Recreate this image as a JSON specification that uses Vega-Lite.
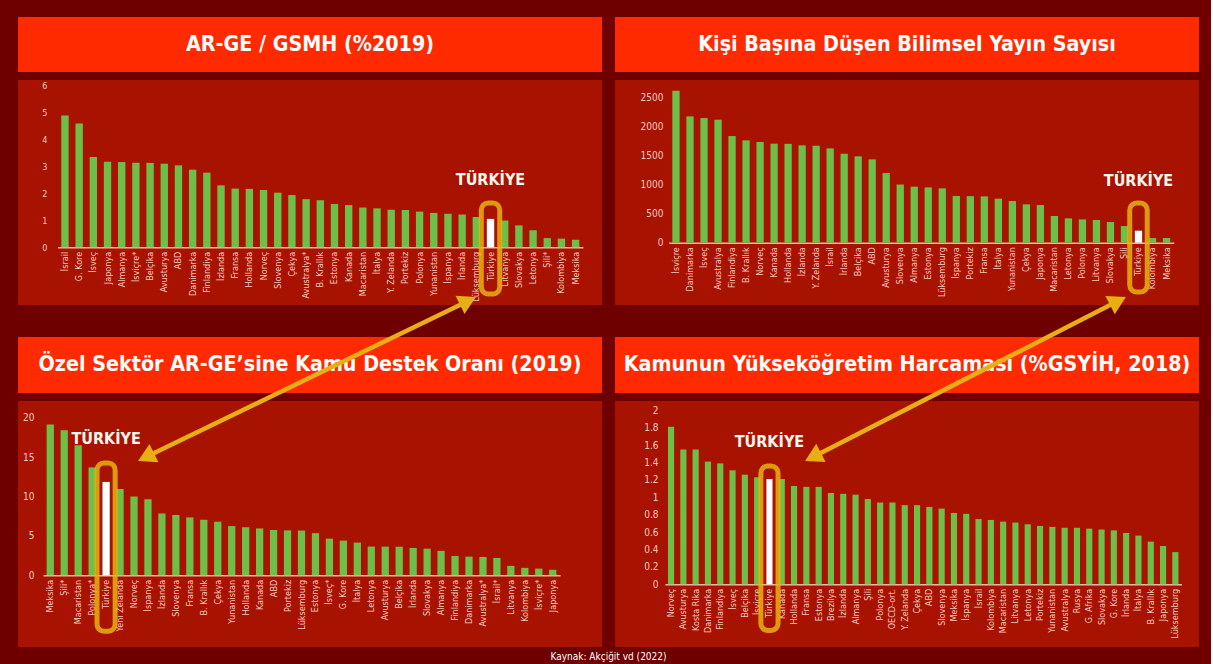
{
  "$schema": "https://vega.github.io/schema/vega-lite/v6.json",
  "background": "#6e0000",
  "padding": {"left": 18, "top": 17, "right": 12, "bottom": 2},
  "config": {
    "view": {"stroke": null},
    "font": "DejaVu Sans Condensed, Roboto",
    "axis": {"labelFont": "DejaVu Sans Condensed, Roboto", "titleFont": "DejaVu Sans Condensed, Roboto"}
  },
  "title": {"text": "Kaynak: Akçiğit vd (2022)", "orient": "bottom", "anchor": "middle", "fontSize": 10, "fontWeight": "normal", "color": "#ffffff", "font": "DejaVu Sans Condensed, Roboto", "offset": 5},
  "datasets": {
    "p1": [
      {"c": "İsrail", "v": 4.87}, {"c": "G. Kore", "v": 4.58}, {"c": "İsveç", "v": 3.34}, {"c": "Japonya", "v": 3.16},
      {"c": "Almanya", "v": 3.15}, {"c": "İsviçre*", "v": 3.13}, {"c": "Belçika", "v": 3.12}, {"c": "Avusturya", "v": 3.09},
      {"c": "ABD", "v": 3.03}, {"c": "Danimarka", "v": 2.87}, {"c": "Finlandiya", "v": 2.76}, {"c": "İzlanda", "v": 2.29},
      {"c": "Fransa", "v": 2.17}, {"c": "Hollanda", "v": 2.16}, {"c": "Norveç", "v": 2.12}, {"c": "Slovenya", "v": 2.02},
      {"c": "Çekya", "v": 1.93}, {"c": "Avustralya*", "v": 1.78}, {"c": "B. Krallık", "v": 1.74}, {"c": "Estonya", "v": 1.6},
      {"c": "Kanada", "v": 1.56}, {"c": "Macaristan", "v": 1.47}, {"c": "İtalya", "v": 1.44}, {"c": "Y. Zelanda", "v": 1.39},
      {"c": "Portekiz", "v": 1.38}, {"c": "Polonya", "v": 1.32}, {"c": "Yunanistan", "v": 1.27}, {"c": "İspanya", "v": 1.24},
      {"c": "İrlanda", "v": 1.21}, {"c": "Lüksemburg", "v": 1.12}, {"c": "Türkiye", "v": 1.05}, {"c": "Litvanya", "v": 0.99},
      {"c": "Slovakya", "v": 0.81}, {"c": "Letonya", "v": 0.63}, {"c": "Şili*", "v": 0.34}, {"c": "Kolombiya", "v": 0.32},
      {"c": "Meksika", "v": 0.28}
    ],
    "p2": [
      {"c": "İsviçre", "v": 2621}, {"c": "Danimarka", "v": 2178}, {"c": "İsveç", "v": 2149}, {"c": "Avustralya", "v": 2121},
      {"c": "Finlandiya", "v": 1839}, {"c": "B. Krallık", "v": 1764}, {"c": "Norveç", "v": 1736}, {"c": "Kanada", "v": 1707},
      {"c": "Hollanda", "v": 1705}, {"c": "İzlanda", "v": 1678}, {"c": "Y. Zelanda", "v": 1672}, {"c": "İsrail", "v": 1626},
      {"c": "İrlanda", "v": 1534}, {"c": "Belçika", "v": 1489}, {"c": "ABD", "v": 1437}, {"c": "Avusturya", "v": 1201},
      {"c": "Slovenya", "v": 1003}, {"c": "Almanya", "v": 966}, {"c": "Estonya", "v": 954}, {"c": "Lüksemburg", "v": 937},
      {"c": "İspanya", "v": 805}, {"c": "Portekiz", "v": 803}, {"c": "Fransa", "v": 799}, {"c": "İtalya", "v": 759},
      {"c": "Yunanistan", "v": 718}, {"c": "Çekya", "v": 661}, {"c": "Japonya", "v": 649}, {"c": "Macaristan", "v": 460},
      {"c": "Letonya", "v": 420}, {"c": "Polonya", "v": 402}, {"c": "Litvanya", "v": 391}, {"c": "Slovakya", "v": 356},
      {"c": "Şili", "v": 287}, {"c": "Türkiye", "v": 207}, {"c": "Kolombiya", "v": 80}, {"c": "Meksika", "v": 80}
    ],
    "p3": [
      {"c": "Meksika", "v": 19.15}, {"c": "Şili*", "v": 18.4}, {"c": "Macaristan", "v": 16.5}, {"c": "Polonya*", "v": 13.7},
      {"c": "Türkiye", "v": 11.85}, {"c": "Yeni Zelanda", "v": 10.95}, {"c": "Norveç", "v": 10.0}, {"c": "İspanya", "v": 9.65},
      {"c": "İzlanda", "v": 7.85}, {"c": "Slovenya", "v": 7.65}, {"c": "Fransa", "v": 7.35}, {"c": "B. Krallık", "v": 7.05},
      {"c": "Çekya", "v": 6.8}, {"c": "Yunanistan", "v": 6.25}, {"c": "Hollanda", "v": 6.1}, {"c": "Kanada", "v": 5.95},
      {"c": "ABD", "v": 5.75}, {"c": "Portekiz", "v": 5.7}, {"c": "Lüksemburg", "v": 5.68}, {"c": "Estonya", "v": 5.35},
      {"c": "İsveç*", "v": 4.65}, {"c": "G. Kore", "v": 4.4}, {"c": "İtalya", "v": 4.15}, {"c": "Letonya", "v": 3.65},
      {"c": "Avusturya", "v": 3.64}, {"c": "Belçika", "v": 3.63}, {"c": "İrlanda", "v": 3.47}, {"c": "Slovakya", "v": 3.38},
      {"c": "Almanya", "v": 3.1}, {"c": "Finlandiya", "v": 2.45}, {"c": "Danimarka", "v": 2.37}, {"c": "Avustralya*", "v": 2.33},
      {"c": "İsrail*", "v": 2.2}, {"c": "Litvanya", "v": 1.2}, {"c": "Kolombiya", "v": 0.95}, {"c": "İsviçre*", "v": 0.85},
      {"c": "Japonya", "v": 0.7}
    ],
    "p4": [
      {"c": "Norveç", "v": 1.81}, {"c": "Avusturya", "v": 1.55}, {"c": "Kosta Rika", "v": 1.55}, {"c": "Danimarka", "v": 1.41},
      {"c": "Finlandiya", "v": 1.39}, {"c": "İsveç", "v": 1.31}, {"c": "Belçika", "v": 1.26}, {"c": "İsviçre", "v": 1.23},
      {"c": "Türkiye", "v": 1.21}, {"c": "Kanada", "v": 1.21}, {"c": "Hollanda", "v": 1.13}, {"c": "Fransa", "v": 1.12},
      {"c": "Estonya", "v": 1.12}, {"c": "Brezilya", "v": 1.05}, {"c": "İzlanda", "v": 1.04}, {"c": "Almanya", "v": 1.03},
      {"c": "Şili", "v": 0.98}, {"c": "Polonya", "v": 0.94}, {"c": "OECD-ort.", "v": 0.94}, {"c": "Y. Zelanda", "v": 0.91},
      {"c": "Çekya", "v": 0.91}, {"c": "ABD", "v": 0.89}, {"c": "Slovenya", "v": 0.87}, {"c": "Meksika", "v": 0.82},
      {"c": "İspanya", "v": 0.81}, {"c": "İsrail", "v": 0.75}, {"c": "Kolombiya", "v": 0.74}, {"c": "Macaristan", "v": 0.72},
      {"c": "Litvanya", "v": 0.71}, {"c": "Letonya", "v": 0.69}, {"c": "Portekiz", "v": 0.67}, {"c": "Yunanistan", "v": 0.66},
      {"c": "Avustralya", "v": 0.65}, {"c": "Rusya", "v": 0.65}, {"c": "G. Afrika", "v": 0.64}, {"c": "Slovakya", "v": 0.63},
      {"c": "G. Kore", "v": 0.62}, {"c": "İrlanda", "v": 0.59}, {"c": "İtalya", "v": 0.56}, {"c": "B. Krallık", "v": 0.49},
      {"c": "Japonya", "v": 0.44}, {"c": "Lüksemburg", "v": 0.37}
    ]
  },
  "columns": 2,
  "spacing": {"row": 8, "column": 13},
  "bounds": "flush",
  "concat": [
    {
      "width": 584, "height": 55,
      "view": {"fill": "#ff2a00", "stroke": null},
      "data": {"values": [{"t": "AR-GE / GSMH (%2019)"}]},
      "mark": {"type": "text", "fontSize": 21.3, "fontWeight": "bold", "color": "#ffffff", "align": "center", "baseline": "middle"},
      "encoding": {"text": {"field": "t"}}
    },
    {
      "width": 584, "height": 55,
      "view": {"fill": "#ff2a00", "stroke": null},
      "data": {"values": [{"t": "Kişi Başına Düşen Bilimsel Yayın Sayısı"}]},
      "mark": {"type": "text", "fontSize": 21.3, "fontWeight": "bold", "color": "#ffffff", "align": "center", "baseline": "middle"},
      "encoding": {"text": {"field": "t"}}
    },
    {
      "width": 584, "height": 225,
      "view": {"fill": "#a81200", "stroke": null},
      "data": {"name": "p1"},
      "layer": [
        {
          "mark": {"type": "bar"},
          "encoding": {
            "x": {"field": "c", "type": "nominal", "sort": null,
              "scale": {"range": [39.6, 565], "paddingInner": 0.48, "paddingOuter": 0.26},
              "axis": {"title": null, "labelAngle": -90, "labelFontSize": 9, "labelColor": "#f4c9c0", "ticks": false, "domainColor": "#f1b6a8", "domainWidth": 1.5, "offset": -57.7, "labelPadding": 4, "labelOverlap": false}},
            "y": {"field": "v", "type": "quantitative",
              "scale": {"domain": [0, 6], "range": [167.3, 5], "nice": false},
              "axis": {"title": null, "values": [0, 1, 2, 3, 4, 5, 6], "tickCount": 20, "format": "d", "ticks": false, "domain": false, "grid": false, "labelColor": "#f4c9c0", "labelFontSize": 9, "offset": -31, "labelPadding": 2, "labelOverlap": false, "labelFlush": false}},
            "color": {"condition": {"test": "datum.c === 'Türkiye'", "value": "#ffffff"}, "value": "#6dbf47"}
          }
        },
        {
          "data": {"values": [{"c": "Türkiye", "y1": -1.73, "y2": 1.64}]},
          "mark": {"type": "bar", "width": {"band": 2.5}, "fill": "transparent", "stroke": "#e9b20f", "strokeWidth": 5, "cornerRadius": 7, "strokeOpacity": 0.85},
          "encoding": {
            "x": {"field": "c", "type": "nominal", "sort": null},
            "y": {"field": "y1", "type": "quantitative"},
            "y2": {"field": "y2"}
          }
        },
        {
          "data": {"values": [{"c": "Türkiye", "y": 2.48, "t": "TÜRKİYE"}]},
          "mark": {"type": "text", "fontSize": 16, "fontWeight": "bold", "color": "#fff6ee", "baseline": "middle"},
          "encoding": {
            "x": {"field": "c", "type": "nominal", "sort": null},
            "y": {"field": "y", "type": "quantitative"},
            "text": {"field": "t"}
          }
        }
      ]
    },
    {
      "width": 584, "height": 225,
      "view": {"fill": "#a81200", "stroke": null},
      "data": {"name": "p2"},
      "layer": [
        {
          "mark": {"type": "bar"},
          "encoding": {
            "x": {"field": "c", "type": "nominal", "sort": null,
              "scale": {"range": [53.7, 558.8], "paddingInner": 0.48, "paddingOuter": 0.26},
              "axis": {"title": null, "labelAngle": -90, "labelFontSize": 9, "labelColor": "#f4c9c0", "ticks": false, "domainColor": "#f1b6a8", "domainWidth": 1.5, "offset": -62.3, "labelPadding": 4, "labelOverlap": false}},
            "y": {"field": "v", "type": "quantitative",
              "scale": {"domain": [0, 2500], "range": [162.7, 17.7], "nice": false},
              "axis": {"title": null, "values": [0, 500, 1000, 1500, 2000, 2500], "tickCount": 20, "ticks": false, "domain": false, "grid": false, "labelColor": "#f4c9c0", "labelFontSize": 10, "offset": -50, "labelPadding": 2, "format": "d", "labelOverlap": false, "labelFlush": false}},
            "color": {"condition": {"test": "datum.c === 'Türkiye'", "value": "#ffffff"}, "value": "#6dbf47"}
          }
        },
        {
          "data": {"values": [{"c": "Türkiye", "y1": -850, "y2": 684}]},
          "mark": {"type": "bar", "width": {"band": 2.4}, "fill": "transparent", "stroke": "#e9b20f", "strokeWidth": 5, "cornerRadius": 7, "strokeOpacity": 0.85},
          "encoding": {
            "x": {"field": "c", "type": "nominal", "sort": null},
            "y": {"field": "y1", "type": "quantitative"},
            "y2": {"field": "y2"}
          }
        },
        {
          "data": {"values": [{"c": "Türkiye", "y": 1064, "t": "TÜRKİYE"}]},
          "mark": {"type": "text", "fontSize": 16, "fontWeight": "bold", "color": "#fff6ee", "baseline": "middle"},
          "encoding": {
            "x": {"field": "c", "type": "nominal", "sort": null},
            "y": {"field": "y", "type": "quantitative"},
            "text": {"field": "t"}
          }
        }
      ]
    },
    {
      "width": 584, "height": 80,
      "data": {"values": [{"t": "Özel Sektör AR-GE’sine Kamu Destek Oranı (2019)", "x0": 0, "x1": 1, "y0": 0, "y1": 1, "ym": 0.5}]},
      "layer": [
        {
          "mark": {"type": "rect", "color": "#ff2a00"},
          "encoding": {
            "x": {"field": "x0", "type": "quantitative", "scale": {"domain": [0, 1], "nice": false}, "axis": null},
            "x2": {"field": "x1"},
            "y": {"field": "y0", "type": "quantitative", "scale": {"domain": [0, 1.43], "nice": false}, "axis": null},
            "y2": {"field": "y1"}
          }
        },
        {
          "mark": {"type": "text", "fontSize": 21.3, "fontWeight": "bold", "color": "#ffffff", "align": "center", "baseline": "middle"},
          "encoding": {
            "y": {"field": "ym", "type": "quantitative"},
            "text": {"field": "t"}
          }
        }
      ]
    },
    {
      "width": 584, "height": 80,
      "data": {"values": [{"t": "Kamunun Yükseköğretim Harcaması (%GSYİH, 2018)", "x0": 0, "x1": 1, "y0": 0, "y1": 1, "ym": 0.5}]},
      "layer": [
        {
          "mark": {"type": "rect", "color": "#ff2a00"},
          "encoding": {
            "x": {"field": "x0", "type": "quantitative", "scale": {"domain": [0, 1], "nice": false}, "axis": null},
            "x2": {"field": "x1"},
            "y": {"field": "y0", "type": "quantitative", "scale": {"domain": [0, 1.43], "nice": false}, "axis": null},
            "y2": {"field": "y1"}
          }
        },
        {
          "mark": {"type": "text", "fontSize": 21.3, "fontWeight": "bold", "color": "#ffffff", "align": "center", "baseline": "middle"},
          "encoding": {
            "y": {"field": "ym", "type": "quantitative"},
            "text": {"field": "t"}
          }
        }
      ]
    },
    {
      "width": 584, "height": 246,
      "view": {"fill": "#a81200", "stroke": null},
      "data": {"name": "p3"},
      "layer": [
        {
          "mark": {"type": "bar"},
          "encoding": {
            "x": {"field": "c", "type": "nominal", "sort": null,
              "scale": {"range": [25, 542], "paddingInner": 0.48, "paddingOuter": 0.26},
              "axis": {"title": null, "labelAngle": -90, "labelFontSize": 9, "labelColor": "#f4c9c0", "ticks": false, "domainColor": "#f1b6a8", "domainWidth": 1.5, "offset": -71.7, "labelPadding": 4, "labelOverlap": false}},
            "y": {"field": "v", "type": "quantitative",
              "scale": {"domain": [0, 20], "range": [174.3, 16.7], "nice": false},
              "axis": {"title": null, "values": [0, 5, 10, 15, 20], "tickCount": 20, "format": "d", "ticks": false, "domain": false, "grid": false, "labelColor": "#f4c9c0", "labelFontSize": 10, "offset": -18, "labelPadding": 2, "labelOverlap": false, "labelFlush": false}},
            "color": {"condition": {"test": "datum.c === 'Türkiye'", "value": "#ffffff"}, "value": "#6dbf47"}
          }
        },
        {
          "data": {"values": [{"c": "Türkiye", "y1": -7.1, "y2": 14.25}]},
          "mark": {"type": "bar", "width": {"band": 2.5}, "fill": "transparent", "stroke": "#e9b20f", "strokeWidth": 5, "cornerRadius": 7, "strokeOpacity": 0.85},
          "encoding": {
            "x": {"field": "c", "type": "nominal", "sort": null},
            "y": {"field": "y1", "type": "quantitative"},
            "y2": {"field": "y2"}
          }
        },
        {
          "data": {"values": [{"c": "Türkiye", "y": 17.3, "t": "TÜRKİYE"}]},
          "mark": {"type": "text", "fontSize": 16, "fontWeight": "bold", "color": "#fff6ee", "baseline": "middle"},
          "encoding": {
            "x": {"field": "c", "type": "nominal", "sort": null},
            "y": {"field": "y", "type": "quantitative"},
            "text": {"field": "t"}
          }
        }
      ]
    },
    {
      "width": 584, "height": 246,
      "view": {"fill": "#a81200", "stroke": null},
      "resolve": {"scale": {"x": "independent", "y": "independent"}, "axis": {"x": "independent", "y": "independent"}},
      "layer": [
        {
          "data": {"name": "p4"},
          "layer": [
            {
              "mark": {"type": "bar"},
              "encoding": {
                "x": {"field": "c", "type": "nominal", "sort": null,
                  "scale": {"range": [49.9, 566.5], "paddingInner": 0.5, "paddingOuter": 0.25},
                  "axis": {"title": null, "labelAngle": -90, "labelFontSize": 9, "labelColor": "#f4c9c0", "ticks": false, "domainColor": "#f1b6a8", "domainWidth": 1.5, "offset": -62.7, "labelPadding": 4, "labelOverlap": false}},
                "y": {"field": "v", "type": "quantitative",
                  "scale": {"domain": [0, 2], "range": [183.3, 9.3], "nice": false},
                  "axis": {"title": null, "values": [0, 0.2, 0.4, 0.6, 0.8, 1, 1.2, 1.4, 1.6, 1.8, 2], "tickCount": 30, "format": ".1~f", "ticks": false, "domain": false, "grid": false, "labelColor": "#f4c9c0", "labelFontSize": 10, "offset": -45, "labelPadding": 2, "labelOverlap": false, "labelFlush": false}},
                "color": {"condition": {"test": "datum.c === 'Türkiye'", "value": "#ffffff"}, "value": "#6dbf47"}
              }
            },
            {
              "data": {"values": [{"c": "Türkiye", "y1": -0.53, "y2": 1.36}]},
              "mark": {"type": "bar", "width": {"band": 2.8}, "fill": "transparent", "stroke": "#e9b20f", "strokeWidth": 5, "cornerRadius": 7, "strokeOpacity": 0.85},
              "encoding": {
                "x": {"field": "c", "type": "nominal", "sort": null},
                "y": {"field": "y1", "type": "quantitative"},
                "y2": {"field": "y2"}
              }
            },
            {
              "data": {"values": [{"c": "Türkiye", "y": 1.63, "t": "TÜRKİYE"}]},
              "mark": {"type": "text", "fontSize": 16, "fontWeight": "bold", "color": "#fff6ee", "baseline": "middle"},
              "encoding": {
                "x": {"field": "c", "type": "nominal", "sort": null},
                "y": {"field": "y", "type": "quantitative"},
                "text": {"field": "t"}
              }
            }
          ]
        },
        {
          "layer": [
            {
              "data": {"values": [{"ax": 148, "ay": 456, "bx": 466, "by": 302}, {"ax": 815, "ay": 456, "bx": 1116, "by": 302}]},
              "mark": {"type": "rule", "strokeWidth": 4.5, "color": "#e8ae14"},
              "encoding": {
                "x": {"field": "ax", "type": "quantitative", "scale": {"domain": [615, 1199], "nice": false, "zero": false}, "axis": null},
                "y": {"field": "ay", "type": "quantitative", "scale": {"domain": [401, 647], "nice": false, "zero": false, "reverse": true}, "axis": null},
                "x2": {"field": "bx"},
                "y2": {"field": "by"}
              }
            },
            {
              "data": {"values": [
                {"ax": 146, "ay": 457, "a": 244},
                {"ax": 468, "ay": 301, "a": 64},
                {"ax": 813, "ay": 457, "a": 243},
                {"ax": 1118, "ay": 301, "a": 63}
              ]},
              "mark": {"type": "point", "shape": "triangle-up", "filled": true, "size": 420, "color": "#e8ae14", "opacity": 1},
              "encoding": {
                "x": {"field": "ax", "type": "quantitative"},
                "y": {"field": "ay", "type": "quantitative"},
                "angle": {"field": "a", "type": "quantitative", "scale": null}
              }
            }
          ]
        }
      ]
    }
  ]
}
